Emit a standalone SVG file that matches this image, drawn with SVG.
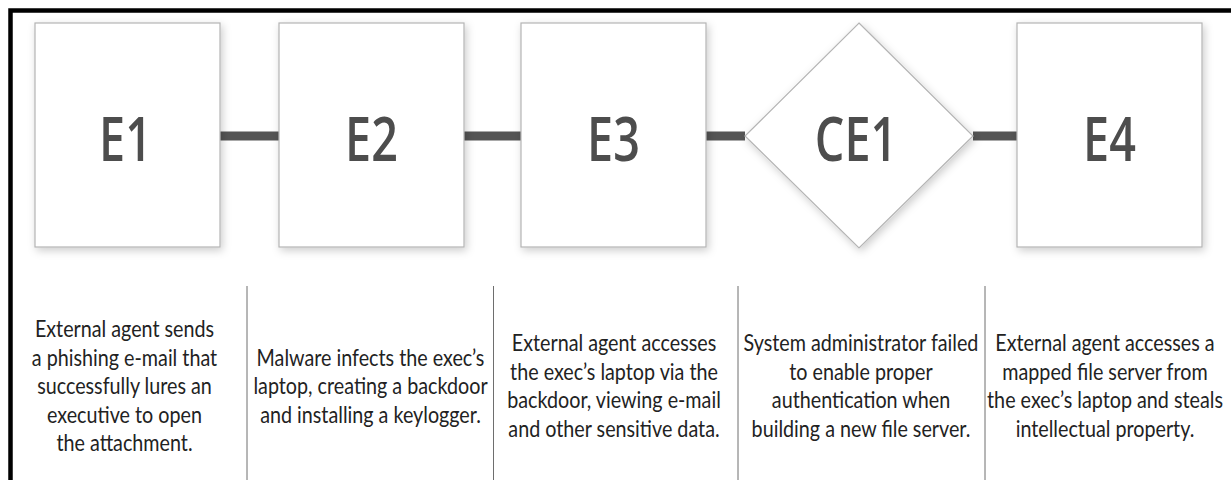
<svg xmlns="http://www.w3.org/2000/svg" width="1231" height="480" viewBox="0 0 1231 480">
<style>
.box{fill:#fff;stroke:#b4b4b4;stroke-width:1.2}
.lbl{font-family:"Open Sans","Noto Sans",sans-serif;font-size:61.5px;font-weight:600;fill:#4d4d4d;text-anchor:middle}
.desc{font-family:Lato,"Open Sans",sans-serif;font-size:23.5px;fill:#222;text-anchor:middle}
.conn{stroke:#555;stroke-width:9;fill:none}
.div{stroke:#6e6e6e;stroke-width:1;fill:none}
</style>
<defs>
<filter id="sh" x="-20%" y="-20%" width="140%" height="140%">
<feDropShadow dx="2" dy="3" stdDeviation="4.5" flood-color="#000" flood-opacity="0.2"/>
</filter>
</defs>
<rect width="1231" height="480" fill="#fff"/>
<path d="M10.5 482 V10.5 H1233" fill="none" stroke="#000" stroke-width="4.5"/>
<g id="connectors">
<line class="conn" x1="220" y1="136" x2="279" y2="136"/>
<line class="conn" x1="464" y1="136" x2="521" y2="136"/>
<line class="conn" x1="706" y1="136" x2="745" y2="136"/>
<line class="conn" x1="973" y1="136" x2="1017" y2="136"/>
</g>
<g id="e1">
<rect class="box" x="35" y="23" width="185" height="224" filter="url(#sh)"/>
<text class="lbl" transform="translate(125.5,161) scale(0.76,1)">E1</text>
</g>
<g id="e2">
<rect class="box" x="279" y="23" width="185" height="224" filter="url(#sh)"/>
<text class="lbl" transform="translate(371.5,161) scale(0.76,1)">E2</text>
</g>
<g id="e3">
<rect class="box" x="521" y="23" width="185" height="224" filter="url(#sh)"/>
<text class="lbl" transform="translate(613.5,161) scale(0.76,1)">E3</text>
</g>
<g id="ce1">
<polygon class="box" points="859,23 973,136 859,248 745,136" filter="url(#sh)"/>
<text class="lbl" transform="translate(856,161) scale(0.76,1)">CE1</text>
</g>
<g id="e4">
<rect class="box" x="1017" y="23" width="185" height="224" filter="url(#sh)"/>
<text class="lbl" transform="translate(1109.5,161) scale(0.76,1)">E4</text>
</g>
<g id="dividers">
<line class="div" x1="247" y1="286" x2="247" y2="480"/>
<line class="div" x1="493.5" y1="286" x2="493.5" y2="480"/>
<line class="div" x1="738" y1="286" x2="738" y2="480"/>
<line class="div" x1="985" y1="286" x2="985" y2="480"/>
</g>
<g id="descriptions">
<text class="desc" transform="translate(124.5,0) scale(0.84,1)"><tspan x="0" y="337">External agent sends</tspan><tspan x="0" y="365.6">a phishing e-mail that</tspan><tspan x="0" y="394.2">successfully lures an</tspan><tspan x="0" y="422.8">executive to open</tspan><tspan x="0" y="451.4">the attachment.</tspan></text>
<text class="desc" transform="translate(370.5,0) scale(0.84,1)"><tspan x="0" y="365.6">Malware infects the exec’s</tspan><tspan x="0" y="394.2">laptop, creating a backdoor</tspan><tspan x="0" y="422.8">and installing a keylogger.</tspan></text>
<text class="desc" transform="translate(614,0) scale(0.84,1)"><tspan x="0" y="351.3">External agent accesses</tspan><tspan x="0" y="379.9">the exec’s laptop via the</tspan><tspan x="0" y="408.5">backdoor, viewing e-mail</tspan><tspan x="0" y="437.1">and other sensitive data.</tspan></text>
<text class="desc" transform="translate(861,0) scale(0.84,1)"><tspan x="0" y="351.3">System administrator failed</tspan><tspan x="0" y="379.9">to enable proper</tspan><tspan x="0" y="408.5">authentication when</tspan><tspan x="0" y="437.1">building a new file server.</tspan></text>
<text class="desc" transform="translate(1105,0) scale(0.84,1)"><tspan x="0" y="351.3">External agent accesses a</tspan><tspan x="0" y="379.9">mapped file server from</tspan><tspan x="0" y="408.5">the exec’s laptop and steals</tspan><tspan x="0" y="437.1">intellectual property.</tspan></text>
</g>
</svg>
